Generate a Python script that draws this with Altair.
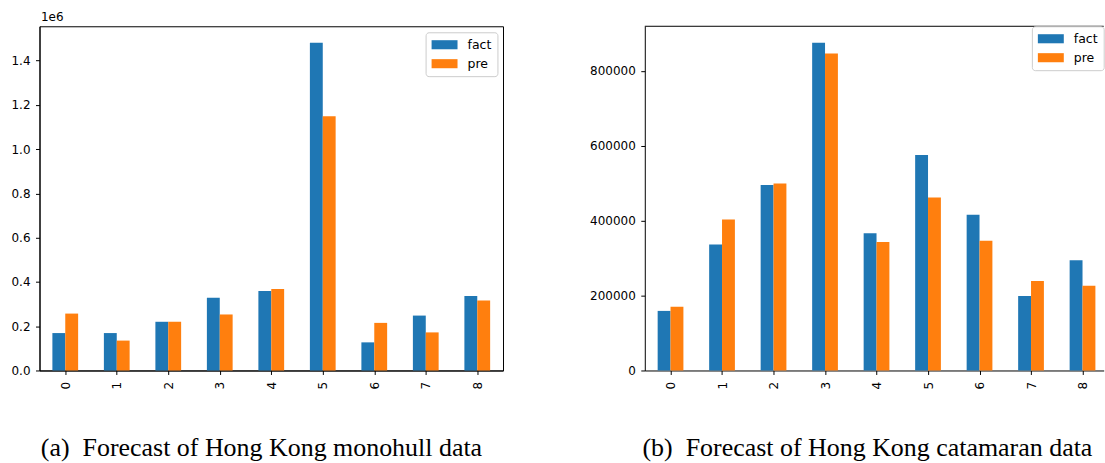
import altair as alt
import pandas as pd

categories = list(range(9))
series_names = ["fact", "pre"]
series_colors = ["#1f77b4", "#ff7f0e"]

mono_fact = [169000, 169000, 220000, 329000, 359000, 1481000, 127000, 248000, 337000]
mono_pre = [257000, 135000, 220000, 253000, 368000, 1149000, 215000, 172000, 316000]

cata_fact = [159000, 336000, 495000, 875000, 366000, 575000, 416000, 199000, 294000]
cata_pre = [170000, 403000, 499000, 846000, 343000, 462000, 346000, 239000, 226000]

mono_ticks = [0, 200000, 400000, 600000, 800000, 1000000, 1200000, 1400000]
cata_ticks = [0, 200000, 400000, 600000, 800000]

caption_a = "(a)\u00a0 Forecast of Hong Kong monohull data"
caption_b = "(b)\u00a0 Forecast of Hong Kong catamaran data"

FONT = "DejaVu Sans"
LEGEND_PATH = "M-1,-0.7L3,-0.7L3,0.7L-1,0.7Z"


def panel(fact, pre, xmax, width, ymax, yticks, label_expr, ytitle, caption,
          cap_dx, legend_offset, frame):
    df = pd.DataFrame({"idx": categories, "fact": fact, "pre": pre})
    yaxis_kwargs = dict(values=yticks, grid=False, labelExpr=label_expr)
    if ytitle:
        yaxis_kwargs.update(title=ytitle, titleAngle=0, titleAlign="left",
                            titleBaseline="alphabetic", titleX=1, titleY=-5.7,
                            titleFont=FONT, titleFontSize=12,
                            titleFontWeight="normal", titleColor="black")
    else:
        yaxis_kwargs.update(title=None)
    bars = alt.Chart(df).transform_fold(
        series_names, as_=["series", "value"]
    ).transform_calculate(
        xa="datum.series == 'fact' ? datum.idx - 0.25 : datum.idx",
        xb="datum.series == 'fact' ? datum.idx : datum.idx + 0.25",
    ).mark_bar().encode(
        x=alt.X("xa:Q",
                scale=alt.Scale(domain=[-0.5, xmax], nice=False, zero=False),
                axis=alt.Axis(values=categories, format="d", labelAngle=270,
                              title=None, grid=False, labelPadding=7)),
        x2="xb:Q",
        y=alt.Y("value:Q", scale=alt.Scale(domain=[0, ymax], nice=False),
                axis=alt.Axis(**yaxis_kwargs)),
        y2=alt.datum(0),
        color=alt.Color("series:N",
                        scale=alt.Scale(domain=series_names, range=series_colors),
                        legend=alt.Legend(title=None, orient="top-right",
                                          offset=legend_offset, padding=6,
                                          fillColor="rgba(255,255,255,0.8)",
                                          strokeColor="#cccccc", cornerRadius=3,
                                          symbolType=LEGEND_PATH, symbolSize=169,
                                          symbolStrokeWidth=0, symbolOpacity=1,
                                          labelOffset=23, rowPadding=6,
                                          labelFont=FONT, labelFontSize=12.5,
                                          labelColor="black")),
        order=alt.Order("series:N"),
    )
    layers = [bars]
    if not frame:
        top_rule = alt.Chart(alt.Data(values=[{}])).mark_rule(
            color="black", strokeWidth=1
        ).encode(x=alt.value(0), x2=alt.value(width), y=alt.value(0))
        layers.append(top_rule)
    view = (alt.ViewBackground(stroke="black", strokeWidth=1) if frame
            else alt.ViewBackground(strokeWidth=0, strokeOpacity=0))
    return alt.layer(*layers).properties(
        width=width, height=345, view=view,
        title=alt.TitleParams(text=caption, orient="bottom", anchor="start",
                              frame="group", dx=cap_dx, offset=67,
                              font="Liberation Serif", fontSize=26,
                              fontWeight="normal", color="black",
                              baseline="alphabetic"),
    )


left = panel(mono_fact, mono_pre, 8.5, 464.6, 1481000 * 1.05, mono_ticks,
             "format(datum.value / 1000000, '.1f')", "1e6", caption_a,
             1.3, 6, True)
right = panel(cata_fact, cata_pre, -0.5 + 460 / 51.62, 460, 875000 * 1.05,
              cata_ticks, "format(datum.value, 'd')", None, caption_b,
              -2.3, 0, False)

chart = alt.hconcat(left, right, spacing=141.7, bounds="flush").resolve_scale(
    color="independent"
).resolve_legend(
    color="independent"
).properties(
    padding={"left": 9.6, "top": 8.8, "right": 0, "bottom": 0},
    background="white",
).configure_axis(
    domainColor="black", domainWidth=1, tickColor="black", tickWidth=1,
    tickSize=4, labelPadding=5.5, labelFont=FONT, labelFontSize=12,
    labelColor="black",
)

chart.save("out.html", embed_options={"renderer": "svg", "actions": False})
